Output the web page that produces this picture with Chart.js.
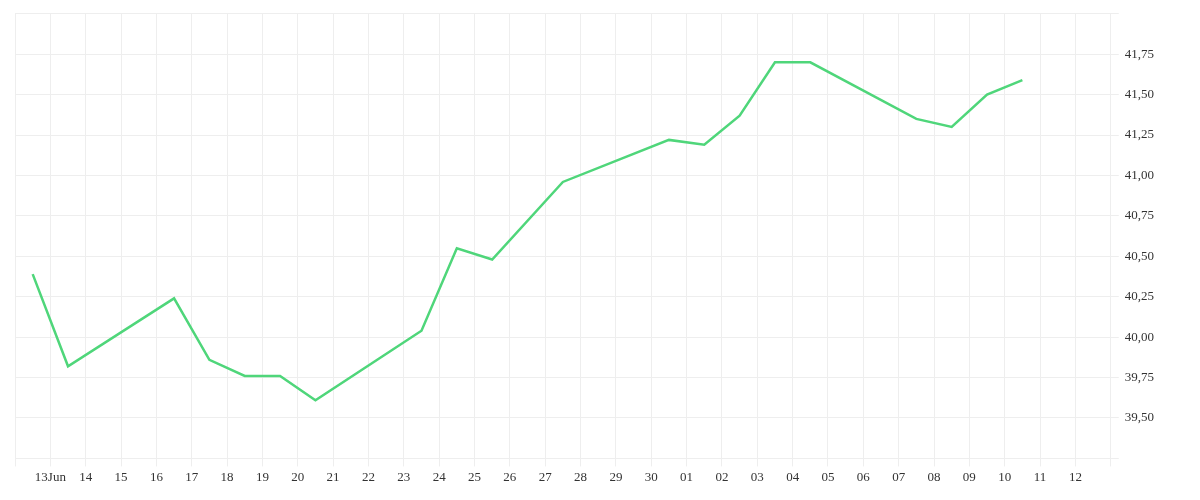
<!DOCTYPE html>
<html>
<head>
<meta charset="utf-8">
<script src="https://cdn.jsdelivr.net/npm/chart.js@4"></script>
<style>
  html, body { margin: 0; padding: 0; background: #fff; }
  #wrap { width: 1200px; height: 500px; }
</style>
</head>
<body>
<div id="wrap"><canvas id="chart"></canvas></div>
<script>
// day labels for tick positions 0..29
var dayLabels = ['13Jun','14','15','16','17','18','19','20','21','22','23','24','25','26','27',
                 '28','29','30','01','02','03','04','05','06','07','08','09','10','11','12'];
// points sit between day ticks
var pointPos = [-0.5, 0.5, 3.5, 4.5, 5.5, 6.5, 7.5, 10.5, 11.5, 12.5, 14.5, 17.5, 18.5, 19.5, 20.5, 21.5, 24.5, 25.5, 26.5, 27.5];
var prices   = [40.39, 39.82, 40.24, 39.86, 39.76, 39.76, 39.61, 40.04, 40.55, 40.48, 40.96, 41.22, 41.19, 41.37, 41.70, 41.70, 41.35, 41.30, 41.50, 41.59];

var pts = pointPos.map(function (x, i) { return { x: x, y: prices[i] }; });

Chart.defaults.font.family = '"Liberation Serif", "DejaVu Serif", serif';
Chart.defaults.font.size = 13;
Chart.defaults.color = '#333';

new Chart(document.getElementById('chart'), {
  type: 'line',
  data: {
    datasets: [{
      data: pts,
      borderColor: '#4fd67a',
      borderWidth: 2.5,
      pointRadius: 0,
      tension: 0,
      fill: false
    }]
  },
  options: {
    responsive: true,
    maintainAspectRatio: false,
    animation: false,
    layout: { padding: { left: 15, right: 40, top: 12, bottom: 12 } },
    plugins: { legend: { display: false }, tooltip: { enabled: false } },
    scales: {
      x: {
        type: 'linear',
        min: -1,
        max: 30,
        grid: { color: '#eeeeee', tickLength: 8 },
        border: { display: false },
        ticks: {
          stepSize: 1,
          autoSkip: false,
          maxRotation: 0,
          callback: function (v) { return dayLabels[v] || ''; }
        }
      },
      y: {
        position: 'right',
        min: 39.25,
        max: 42,
        grid: { color: '#eeeeee', tickLength: 8 },
        border: { display: false },
        ticks: {
          stepSize: 0.25,
          padding: 6,
          callback: function (v) {
            if (v <= 39.3 || v >= 41.95) return '';
            return v.toFixed(2).replace('.', ',');
          }
        }
      }
    }
  }
});
</script>
</body>
</html>
